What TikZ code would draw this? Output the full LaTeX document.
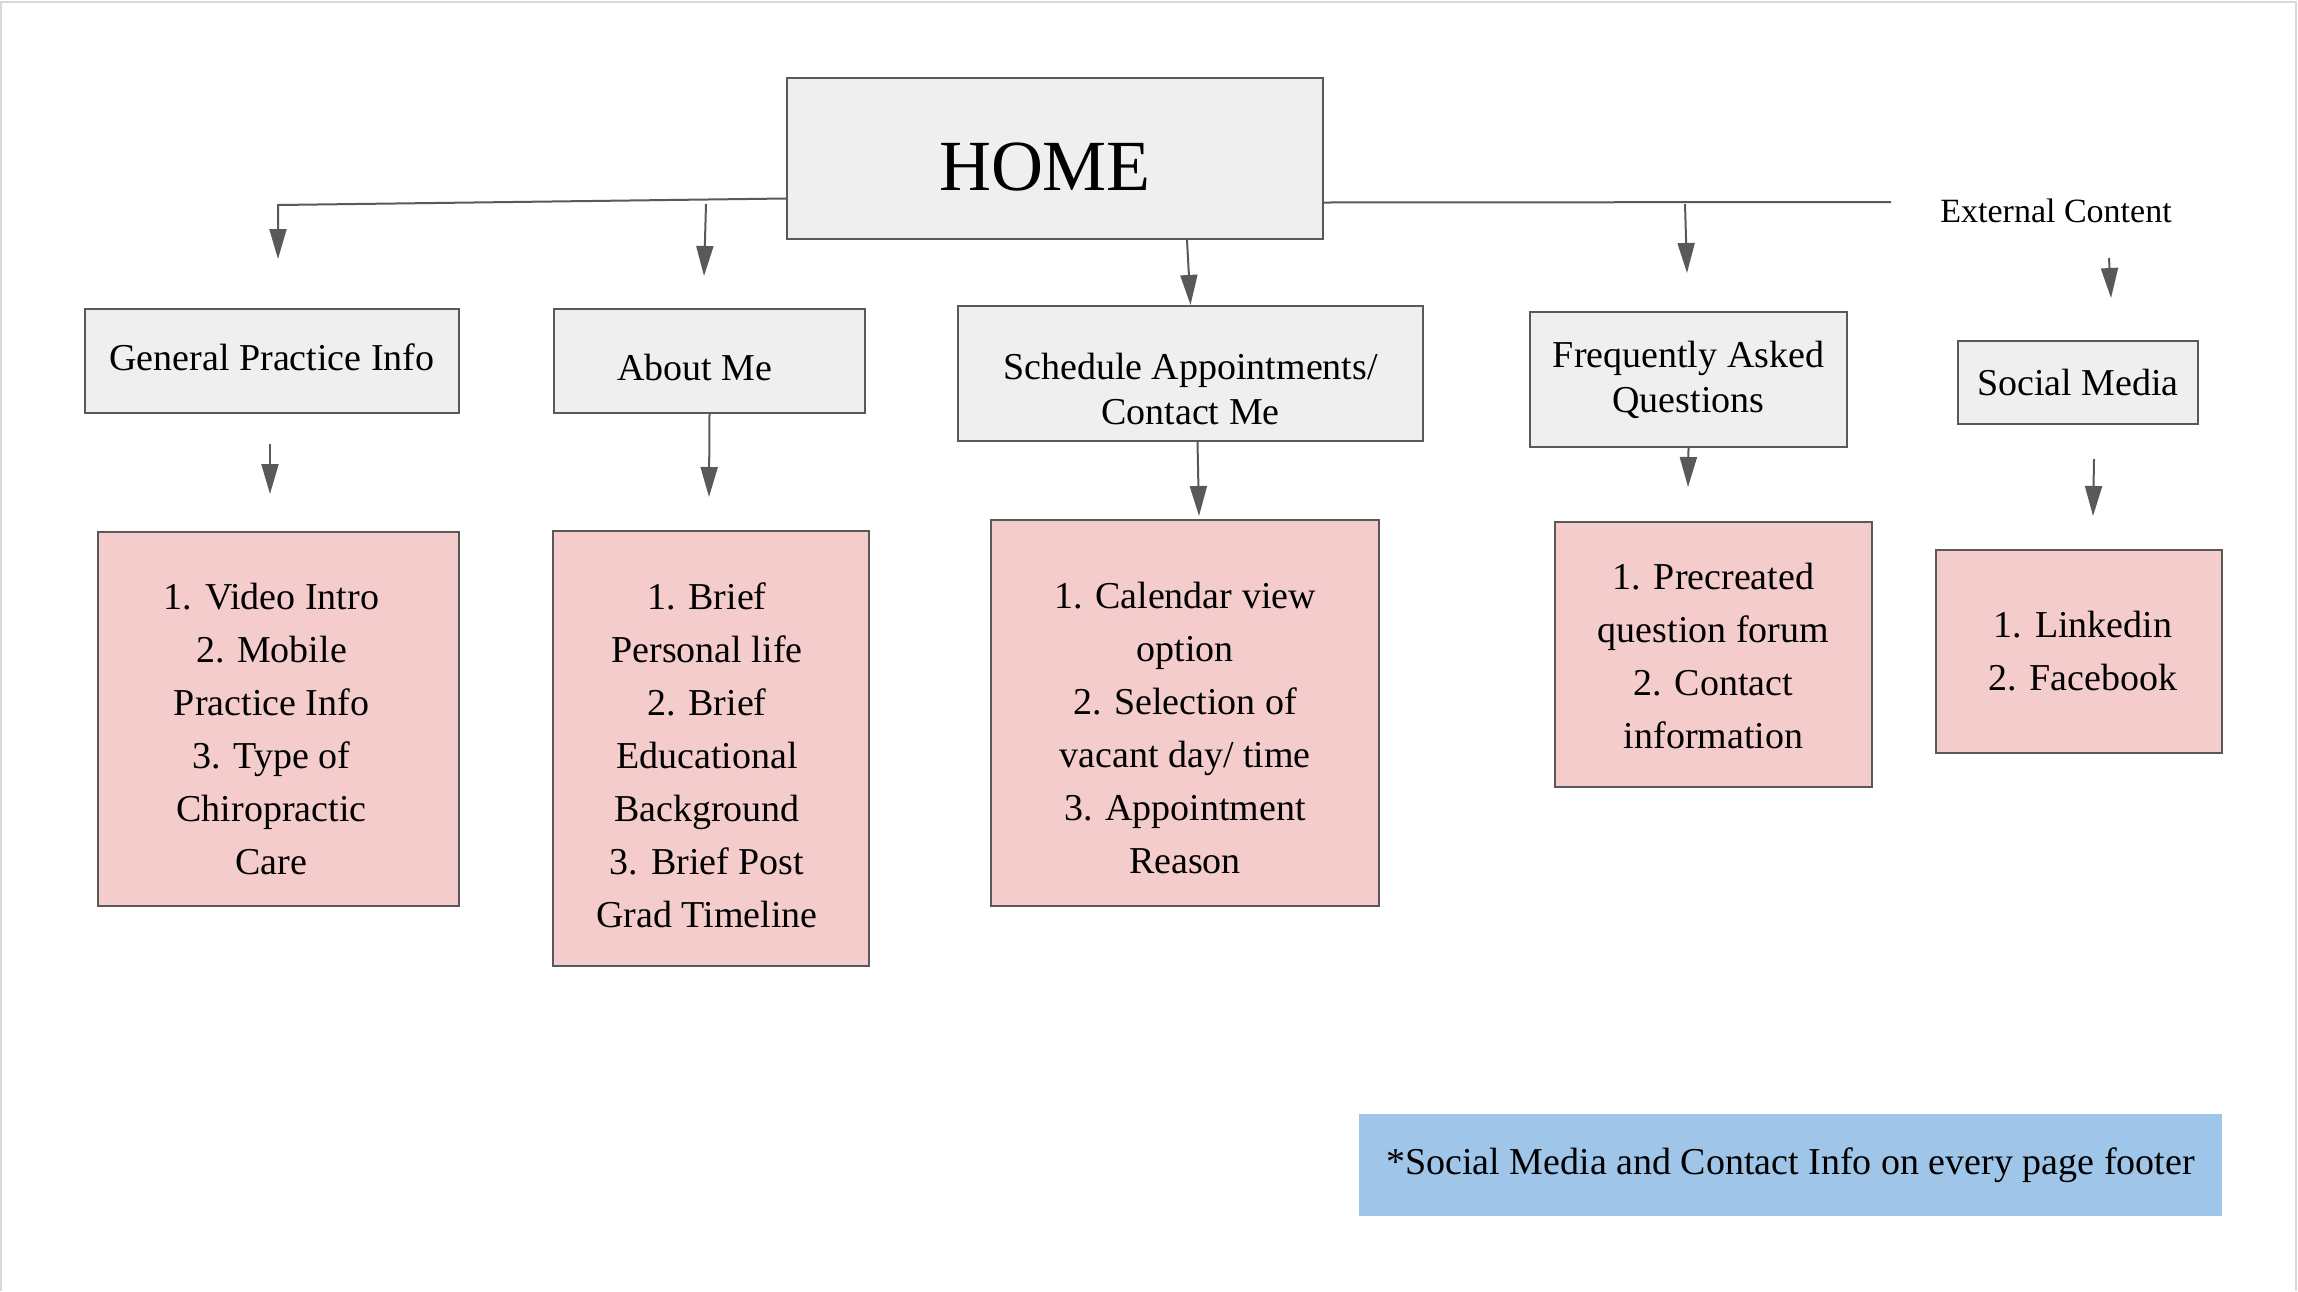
\documentclass[tikz,border=0pt]{standalone}
\usepackage{fontspec}
\setmainfont{Liberation Serif}
\usetikzlibrary{arrows.meta, positioning}
\definecolor{linecolor}{HTML}{595959}
\definecolor{pagecolor}{HTML}{EFEFEF}
\definecolor{itemcolor}{HTML}{F4CCCC}
\definecolor{notecolor}{HTML}{9FC5E8}
\definecolor{framecolor}{HTML}{D9D9D9}

\tikzset{
  pagebox/.style={draw=linecolor, fill=pagecolor, line width=2.2pt, inner sep=0pt},
  itembox/.style={draw=linecolor, fill=itemcolor, line width=2.2pt, inner sep=0pt},
  pagetext/.style={align=center, inner sep=0pt, font=\fontsize{38}{45}\selectfont},
  itemtext/.style={align=center, inner sep=0pt, font=\fontsize{38}{53}\selectfont},
  arr/.style={-{Triangle[length=30pt,width=17pt]}, draw=linecolor, line width=2pt},
  link/.style={draw=linecolor, line width=2pt},
}

\begin{document}
\begin{tikzpicture}[x=1pt,y=-1pt]
        \useasboundingbox (0,0) rectangle (2298,1291);
        \draw[framecolor, line width=2pt] (1,1291) -- (1,2) -- (2296,2) -- (2296,1291);

        % page boxes
        \node[pagebox, minimum width=536pt, minimum height=161pt] (home) at (1055,158.5) {};
        \node[pagebox, minimum width=374pt, minimum height=104pt] (gpi) at (272,361) {};
        \node[pagebox, minimum width=311pt, minimum height=104pt] (about) at (709.5,361) {};
        \node[pagebox, minimum width=465pt, minimum height=135pt] (sched) at (1190.5,373.5) {};
        \node[pagebox, minimum width=317pt, minimum height=135pt] (faq) at (1688.5,379.5) {};
        \node[pagebox, minimum width=240pt, minimum height=83pt] (social) at (2078,382.5) {};

        \node[pagetext, font=\fontsize{72}{80}\selectfont] (hometext) at (1045,167.5) {HOME};
        \node[pagetext] (gpitext) at (272,357) {General Practice Info};
        \node[pagetext] (abouttext) at (695,367) {About Me};
        \node[pagetext] (schedtext) at (1190.5,388.5) {Schedule Appointments/\\Contact Me};
        \node[pagetext] (faqtext) at (1688.5,379.5) {Frequently Asked\\Questions};
        \node[pagetext] (socialtext) at (2078,382.5) {Social Media};
        \node[font=\fontsize{34}{40}\selectfont] (ext) at (2056,211) {External Content};

        % content boxes
        \node[itembox, minimum width=361pt, minimum height=374pt] (gpiitems) at (278.5,719) {};
        \node[itembox, minimum width=316pt, minimum height=435pt] (aboutitems) at (711,748.5) {};
        \node[itembox, minimum width=388pt, minimum height=386pt] (scheditems) at (1185,713) {};
        \node[itembox, minimum width=317pt, minimum height=265pt] (faqitems) at (1713.5,654.5) {};
        \node[itembox, minimum width=286pt, minimum height=203pt] (socialitems) at (2079,651.5) {};

        \node[itemtext] (gpilist) at (271.5,729) {1. Video Intro\\2. Mobile\\Practice Info\\3. Type of\\Chiropractic\\Care};
        \node[itemtext] (aboutlist) at (707,755.5) {1. Brief\\Personal life\\2. Brief\\Educational\\Background\\3. Brief Post\\Grad Timeline};
        \node[itemtext] (schedlist) at (1185,728) {1. Calendar view\\option\\2. Selection of\\vacant day/ time\\3. Appointment\\Reason};
        \node[itemtext] (faqlist) at (1713.5,655.5) {1. Precreated\\question forum\\2. Contact\\information};
        \node[itemtext] (sociallist) at (2083,651.5) {1. Linkedin\\2. Facebook};

        \node[fill=notecolor, minimum width=863pt, minimum height=102pt, inner sep=0pt, font=\fontsize{38}{45}\selectfont] (footer) at (1790.5,1165) {*Social Media and Contact Info on every page footer};

        % top level links
        \coordinate (leftcorner) at (278,205);
        \coordinate (gpitip) at (278,259);
        \coordinate (aboutstart) at (706,204);
        \coordinate (abouttip) at (704,276);
        \coordinate (rightend) at (1891,202);
        \coordinate (faqstart) at (1685,204);
        \coordinate (faqtip) at (1687,273);
        \coordinate (extstart) at (2109,258);
        \coordinate (socialtip) at (2111,298);

        \draw[arr] ([yshift=-40pt]home.west) -- (leftcorner) -- (gpitip);
        \draw[arr] (aboutstart) -- (abouttip);
        \draw[arr] ([xshift=132pt]home.south) -- (sched.north);
        \draw[link] ([yshift=-44pt]home.east) -- (rightend);
        \draw[arr] (faqstart) -- (faqtip);
        \draw[arr] (extstart) -- (socialtip);

        % second level links
        \coordinate (gpidown) at (270,444);
        \coordinate (gpiitemtip) at (270,494);
        \coordinate (aboutitemtip) at (709,497);
        \coordinate (scheditemtip) at (1199,516);
        \coordinate (faqitemtip) at (1688,487);
        \coordinate (socialdown) at (2094,459);
        \coordinate (socialitemtip) at (2093,516);

        \draw[arr] (gpidown) -- (gpiitemtip);
        \draw[arr] (about.south) -- (aboutitemtip);
        \draw[arr] ([xshift=7pt]sched.south) -- (scheditemtip);
        \draw[arr] (faq.south) -- (faqitemtip);
        \draw[arr] (socialdown) -- (socialitemtip);
      \end{tikzpicture}
\end{document}
